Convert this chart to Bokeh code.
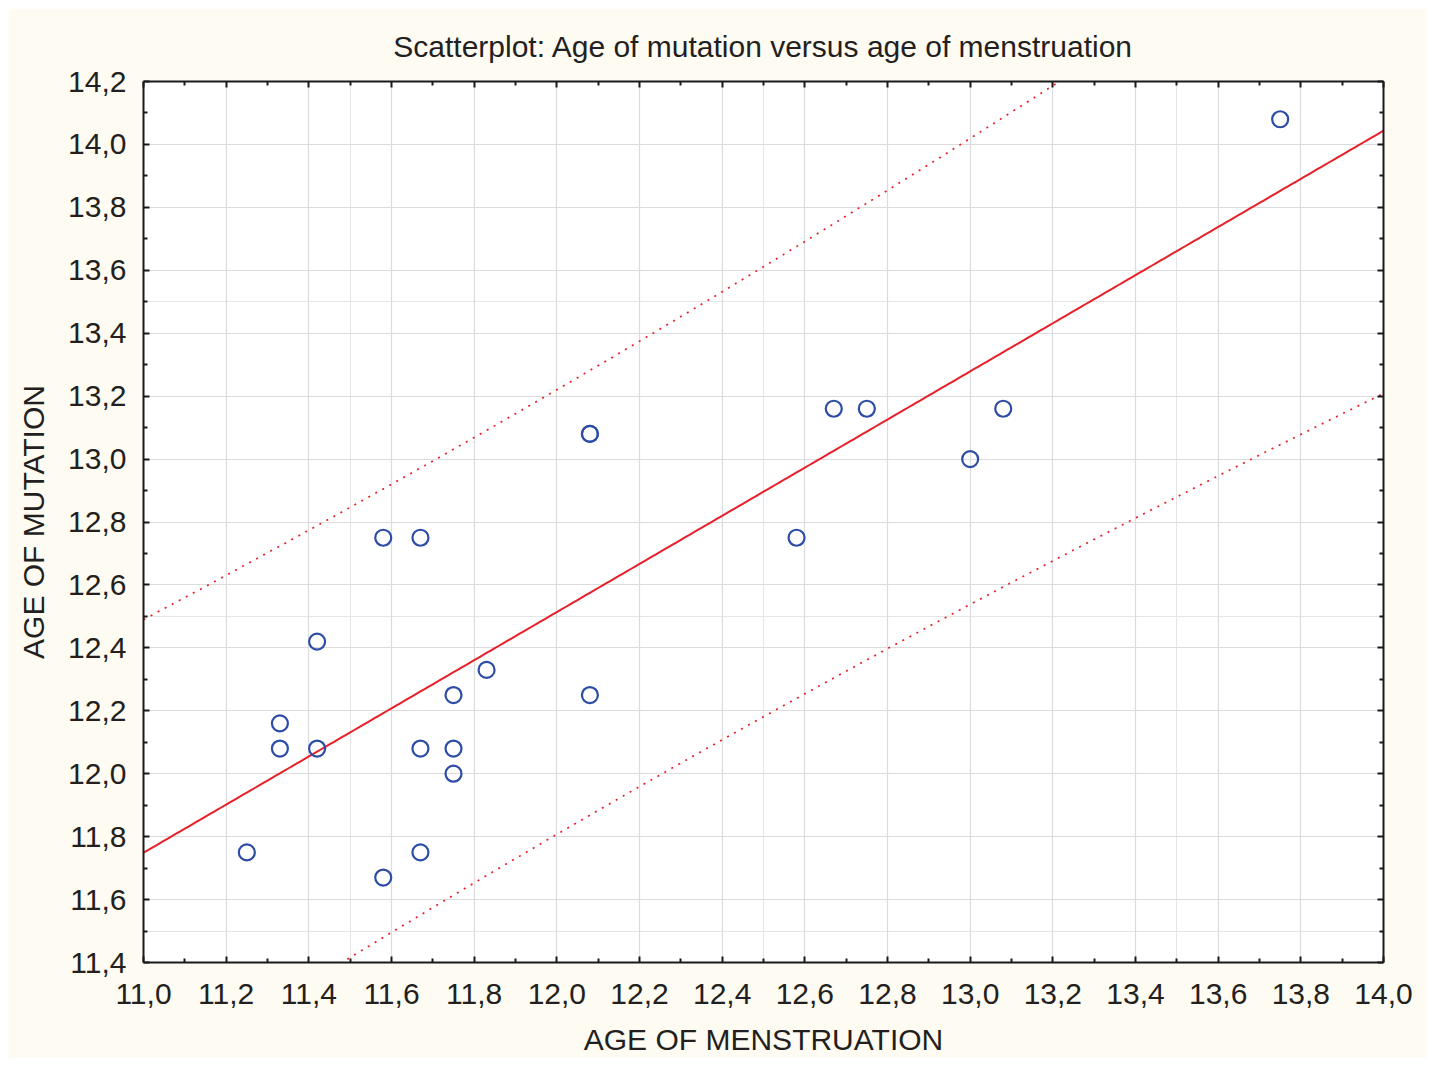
import numpy as np
from bokeh.plotting import figure
from bokeh.models import Range1d, FixedTicker, LinearAxis, Title, Grid
from bokeh.embed import file_html
from bokeh.resources import INLINE

# ---- data (the point at 12.08 / 13.08 is drawn twice) ----
age_menstruation = [11.25, 11.33, 11.33, 11.42, 11.42, 11.58, 11.67, 11.58, 11.67, 11.67, 11.75,
                    11.75, 11.75, 11.83, 12.08, 12.08, 12.08, 12.58, 12.67, 12.75, 13.00, 13.08, 13.75]
age_mutation = [11.75, 12.16, 12.08, 12.42, 12.08, 12.75, 12.75, 11.67, 11.75, 12.08, 12.25,
                12.08, 12.00, 12.33, 13.08, 13.08, 12.25, 12.75, 13.16, 13.16, 13.00, 13.16, 14.08]

x_ticks = [11.0, 11.2, 11.4, 11.6, 11.8, 12.0, 12.2, 12.4, 12.6, 12.8, 13.0, 13.2, 13.4, 13.6, 13.8, 14.0]
x_labels = ["11,0", "11,2", "11,4", "11,6", "11,8", "12,0", "12,2", "12,4", "12,6", "12,8",
            "13,0", "13,2", "13,4", "13,6", "13,8", "14,0"]
x_minor = [11.1, 11.3, 11.5, 11.7, 11.9, 12.1, 12.3, 12.5, 12.7, 12.9, 13.1, 13.3, 13.5, 13.7, 13.9]
y_ticks = [11.4, 11.6, 11.8, 12.0, 12.2, 12.4, 12.6, 12.8, 13.0, 13.2, 13.4, 13.6, 13.8, 14.0, 14.2]
y_labels = ["11,4", "11,6", "11,8", "12,0", "12,2", "12,4", "12,6", "12,8", "13,0", "13,2",
            "13,4", "13,6", "13,8", "14,0", "14,2"]
y_minor = [11.5, 11.7, 11.9, 12.1, 12.3, 12.5, 12.7, 12.9, 13.1, 13.3, 13.5, 13.7, 13.9, 14.1]

t_quantile = 2.080  # t(0.975, df = n - 2 = 21), 95% prediction band

# ---- regression and prediction band computed from the data ----
xa = np.array(age_menstruation)
ya = np.array(age_mutation)
n = len(xa)
slope, intercept = np.polyfit(xa, ya, 1)
resid = ya - (intercept + slope * xa)
s = np.sqrt(np.sum(resid ** 2) / (n - 2))
sxx = np.sum((xa - xa.mean()) ** 2)
xs = np.linspace(11.0, 14.0, 301)
fit = intercept + slope * xs
half = t_quantile * s * np.sqrt(1 + 1 / n + (xs - xa.mean()) ** 2 / sxx)

FONT = "Liberation Sans"
TXT = "#231F20"
BG = "#FEFBF2"

p = figure(width=1419, height=1050, output_backend="svg", toolbar_location=None,
           x_range=Range1d(11.0, 14.0), y_range=Range1d(11.4, 14.2),
           x_axis_location=None, y_axis_location=None,
           min_border_left=135, min_border_right=44, min_border_top=73, min_border_bottom=96)
p.margin = (8, 0, 0, 8)
p.background_fill_color = "white"
p.border_fill_color = BG
p.outline_line_color = None

p.title = Title(text="Scatterplot: Age of mutation versus age of menstruation", align="center",
                text_font=FONT, text_font_size="30px", text_font_style="normal",
                text_color=TXT, standoff=38)

xt = FixedTicker(ticks=x_ticks, minor_ticks=x_minor)
yt = FixedTicker(ticks=y_ticks, minor_ticks=y_minor)

def style(ax, show):
    ax.axis_line_color = "#1a1a1a"
    ax.axis_line_width = 2
    ax.major_tick_in = 6
    ax.major_tick_out = 0
    ax.minor_tick_in = 4
    ax.minor_tick_out = 0
    ax.major_tick_line_color = "#1a1a1a"
    ax.minor_tick_line_color = "#1a1a1a"
    ax.major_tick_line_width = 2
    ax.minor_tick_line_width = 2
    if show:
        ax.major_label_text_font = FONT
        ax.major_label_text_font_size = "30px"
        ax.major_label_text_color = TXT
        ax.axis_label_text_font = FONT
        ax.axis_label_text_font_size = "30px"
        ax.axis_label_text_font_style = "normal"
        ax.axis_label_text_color = TXT
    else:
        ax.major_label_text_font_size = "8px"
        ax.major_label_standoff = 0
        ax.axis_label = None

xb = LinearAxis(ticker=xt, axis_label="AGE OF MENSTRUATION",
                major_label_overrides=dict(zip(x_ticks, x_labels)))
style(xb, True)
xb.major_label_standoff = 21
xb.axis_label_standoff = 16
yl = LinearAxis(ticker=yt, axis_label="AGE OF MUTATION",
                major_label_overrides=dict(zip(y_ticks, y_labels)))
style(yl, True)
yl.major_label_standoff = 17
yl.axis_label_standoff = 15
xa_top = LinearAxis(ticker=xt, major_label_overrides={v: "" for v in x_ticks})
style(xa_top, False)
ya_right = LinearAxis(ticker=yt, major_label_overrides={v: "" for v in y_ticks})
style(ya_right, False)

p.add_layout(xb, "below")
p.add_layout(yl, "left")
p.add_layout(xa_top, "above")
p.add_layout(ya_right, "right")

p.add_layout(Grid(dimension=0, ticker=xt, grid_line_color="#DCDCDC", grid_line_width=1.2))
p.add_layout(Grid(dimension=1, ticker=yt, grid_line_color="#DCDCDC", grid_line_width=1.2))

RED = "#E8202A"
p.line(xs, fit, line_color=RED, line_width=2)
p.line(xs, fit + half, line_color=RED, line_width=1.7, line_dash="2 6")
p.line(xs, fit - half, line_color=RED, line_width=1.7, line_dash="2 6")

p.scatter(age_menstruation, age_mutation, marker="circle", size=16, fill_color=None,
          line_color="#2C4CA6", line_width=2.2)

open("out.html", "w").write(file_html(p, INLINE))
